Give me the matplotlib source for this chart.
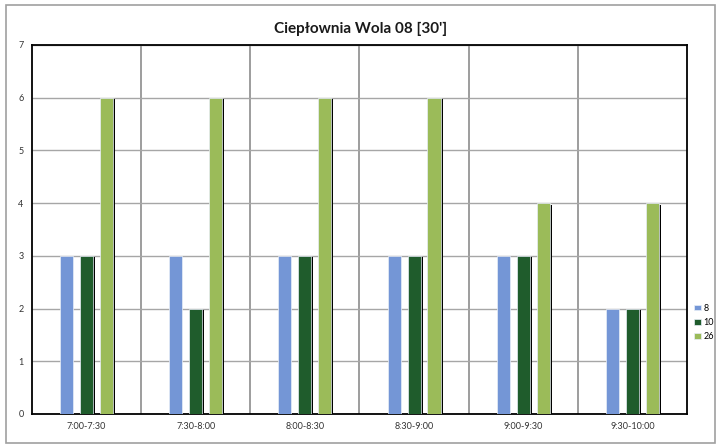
import matplotlib.pyplot as plt
import numpy as np
from matplotlib.patches import Rectangle

plt.rcParams['font.family'] = ['Lato', 'DejaVu Sans']

# data
cats = ["7:00-7:30", "7:30-8:00", "8:00-8:30", "8:30-9:00", "9:00-9:30", "9:30-10:00"]
s8 = [3, 3, 3, 3, 3, 2]
s10 = [3, 2, 3, 3, 3, 2]
s26 = [6, 6, 6, 6, 4, 4]
names = ["8", "10", "26"]
colors = ["#7496d6", "#1f5c2c", "#9bbb59"]
shadow = [False, True, True]

fig = plt.figure(figsize=(7.21, 4.48), dpi=100)
fig.patches.append(Rectangle((0.008, 0.011), 0.984, 0.978, transform=fig.transFigure,
                             fill=False, edgecolor="#a0a0a0", linewidth=1.2))
ax = fig.add_axes([0.0444, 0.0759, 0.9084, 0.8237])

x = np.arange(len(cats))
w = 0.12
offs = [-0.183, 0, 0.183]
bars = []
for vals, off, col, nm, sh in zip([s8, s10, s26], offs, colors, names, shadow):
    if sh:
        # black shadow slightly to the right
        ax.bar(x + off + 0.018, np.array(vals) - 0.03, w, bottom=0, color="black", zorder=2)
    b = ax.bar(x + off, vals, w, color=col, edgecolor="#e8eef8", linewidth=0.5,
               label=nm, zorder=3)
    bars.append(b)

ax.set_xlim(-0.5, len(cats) - 0.5)
ax.set_ylim(0, 7)
ax.set_yticks(range(8))
ax.set_xticks(x)
ax.set_xticklabels(cats)
ax.tick_params(axis='both', labelsize=6.5, length=0, colors="#333333", pad=6)
ax.grid(axis='y', color="#a6a6a6", linewidth=1, zorder=0)
for b in np.arange(0.5, len(cats) - 0.5, 1):
    ax.axvline(b, color="#8c8c8c", linewidth=1.2, zorder=0)
for s in ax.spines.values():
    s.set_color("black")
    s.set_linewidth(1.3)

fig.text(0.5, 0.935, "Ciepłownia Wola 08 [30']", ha="center", va="center",
         fontsize=11, fontweight="bold", color="#1a1a1a")

fig.legend(handles=bars, labels=names, loc="center left", bbox_to_anchor=(0.962, 0.28),
           frameon=False, fontsize=6.5, handlelength=0.8, handleheight=0.6,
           handletextpad=0.3, labelspacing=0.6, borderaxespad=0, borderpad=0)

fig.savefig("out.png", dpi=100)
